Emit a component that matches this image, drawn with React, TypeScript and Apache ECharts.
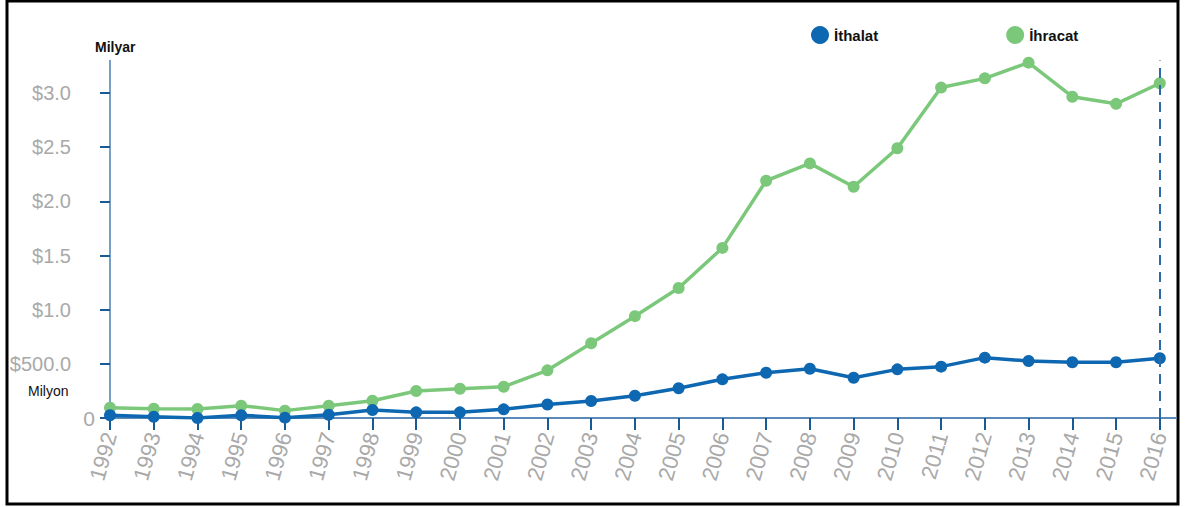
import React, { useEffect, useRef } from "react";
import * as echarts from "echarts";

const years = [1992, 1993, 1994, 1995, 1996, 1997, 1998, 1999, 2000, 2001, 2002, 2003, 2004, 2005, 2006, 2007, 2008, 2009, 2010, 2011, 2012, 2013, 2014, 2015, 2016];
// values in billions of USD
const ithalat = [0.025, 0.012, 0.0, 0.025, 0.003, 0.03, 0.074, 0.052, 0.052, 0.08, 0.124, 0.157, 0.206, 0.274, 0.357, 0.418, 0.455, 0.372, 0.449, 0.474, 0.557, 0.526, 0.514, 0.514, 0.551];
const ihracat = [0.095, 0.086, 0.083, 0.114, 0.068, 0.114, 0.16, 0.249, 0.27, 0.289, 0.44, 0.69, 0.94, 1.2, 1.57, 2.19, 2.35, 2.135, 2.49, 3.05, 3.135, 3.28, 2.966, 2.9, 3.09];
const yTicks = [0, 0.5, 1.0, 1.5, 2.0, 2.5, 3.0];
const seriesNames = ["İthalat", "İhracat"];
const markYear = 2016;

const BLUE = "#0e67b1";
const GREEN = "#7cc87b";
const LABEL_GRAY = "#a9a9a9";
const SANS = "'Liberation Sans', Arial, sans-serif";

export default function App() {
  const ref = useRef<HTMLDivElement>(null);
  useEffect(() => {
    if (!ref.current) return;
    const chart = echarts.init(ref.current, null, { renderer: "svg" });
    const toPairs = (arr: number[]) => arr.map((v, i) => [years[i], v]);
    chart.setOption({
      animation: false,
      backgroundColor: "#ffffff",
      grid: { left: 110, right: 12, top: 60.5, bottom: 89, containLabel: false },
      legend: {
        data: seriesNames,
        left: 806,
        top: 21,
        icon: "circle",
        itemWidth: 18,
        itemHeight: 19,
        itemGap: 128,
        textStyle: { fontFamily: SANS, fontWeight: "bold", fontSize: 15, color: "#111" },
      },
      xAxis: {
        type: "value",
        min: 1992,
        max: 2016.37,
        interval: 1,
        splitLine: { show: false },
        axisLine: { show: true, lineStyle: { color: "#5a8ab8", width: 2 } },
        axisTick: { show: true, length: 12, lineStyle: { color: "#1a5a94", width: 2 }, customValues: years },
        axisLabel: {
          customValues: years,
          rotate: 74,
          margin: 15,
          fontSize: 22,
          color: LABEL_GRAY,
          fontFamily: SANS,
          formatter: (v: number) => String(v),
        },
      },
      yAxis: {
        type: "value",
        min: 0,
        max: 3.3,
        interval: 0.5,
        splitLine: { show: false },
        axisLine: { show: true, lineStyle: { color: "#4a80b5", width: 1.5 } },
        axisTick: { show: true, length: 10, lineStyle: { color: "#1a5a94", width: 2 }, customValues: yTicks },
        axisLabel: {
          customValues: yTicks,
          margin: 15,
          fontSize: 20,
          color: LABEL_GRAY,
          fontFamily: SANS,
          formatter: (v: number) => {
            if (v === 0) return "{z|0}";
            if (Math.abs(v - 0.5) < 1e-9) return "{a|$500.0}";
            return "{a|$" + v.toFixed(1) + "}";
          },
          rich: {
            z: { fontSize: 21, color: LABEL_GRAY, fontFamily: SANS },
            a: { fontSize: 20, color: LABEL_GRAY, fontFamily: SANS, padding: [0, 24, 0, 0] },
          },
        },
      },
      series: [
        {
          name: seriesNames[0],
          type: "line",
          data: toPairs(ithalat),
          color: BLUE,
          symbol: "circle",
          symbolSize: 12,
          lineStyle: { width: 3.5, color: BLUE },
          itemStyle: { color: BLUE },
          z: 3,
          markLine: {
            silent: true,
            symbol: "none",
            label: { show: false },
            lineStyle: { type: [10, 7], color: "#2a6aa8", width: 2 },
            data: [{ xAxis: markYear }],
          },
        },
        {
          name: seriesNames[1],
          type: "line",
          data: toPairs(ihracat),
          color: GREEN,
          symbol: "circle",
          symbolSize: 12,
          lineStyle: { width: 3.5, color: GREEN },
          itemStyle: { color: GREEN },
          z: 2,
        },
      ],
      graphic: [
        {
          type: "rect",
          shape: { x: 7, y: 1, width: 1171, height: 503 },
          style: { fill: "none", stroke: "#000", lineWidth: 3 },
          silent: true,
        },
        {
          type: "text",
          x: 95,
          y: 40,
          style: { text: "Milyar", fontSize: 14, fontWeight: "bold", fill: "#111", fontFamily: SANS },
        },
        {
          type: "text",
          x: 28,
          y: 384,
          style: { text: "Milyon", fontSize: 14, fill: "#111", fontFamily: SANS },
        },
      ],
    });
    return () => chart.dispose();
  }, []);
  return <div ref={ref} style={{ position: "absolute", left: 0, top: 0, width: 1188, height: 507 }} />;
}
